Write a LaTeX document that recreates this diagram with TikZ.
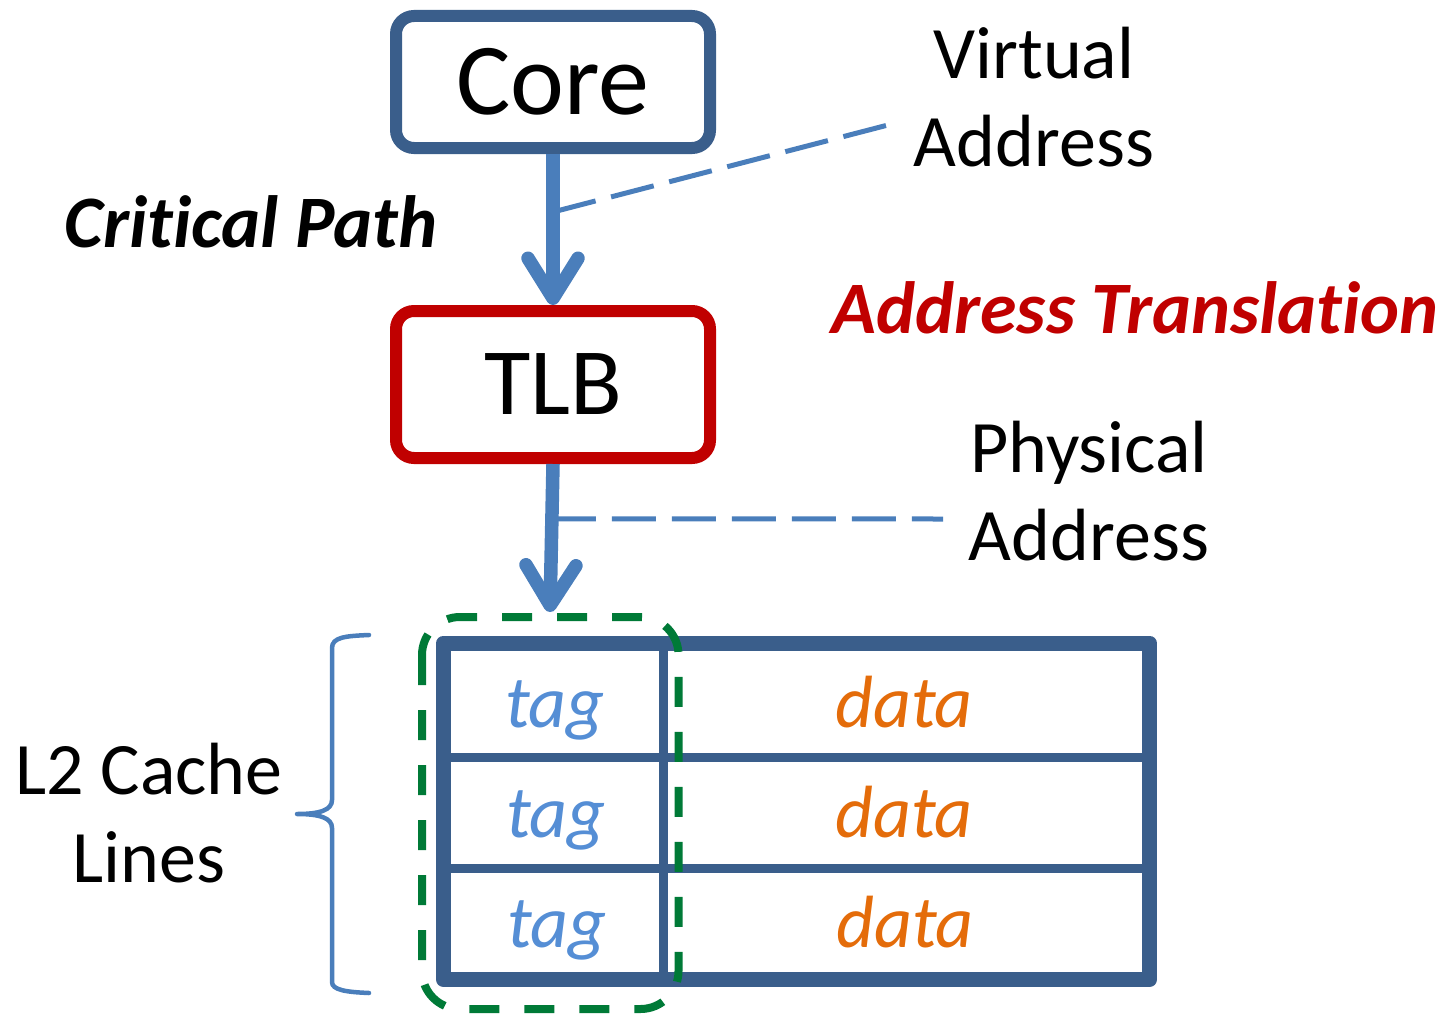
\documentclass[tikz,border=0pt]{standalone}
\usepackage{fontspec}
\setmainfont{Carlito}[Ligatures=NoCommon]
\usetikzlibrary{arrows.meta,calc}
\definecolor{boxblue}{RGB}{58,94,139}
\definecolor{arrowblue}{RGB}{74,126,187}
\definecolor{tlbred}{RGB}{192,0,0}
\definecolor{tagblue}{RGB}{85,142,213}
\definecolor{dataorange}{RGB}{228,108,10}
\definecolor{framegreen}{RGB}{0,122,55}
\begin{document}
\begin{tikzpicture}[x=1pt,y=-1pt,
  unitbox/.style={draw, line width=12pt, rounded corners=18pt, fill=white, inner sep=0pt, minimum width=314pt},
  flow/.style={draw=arrowblue, line width=13.5pt, -{Straight Barb[length=40pt,width=50pt,line cap=round,line join=round]}},
  lead/.style={draw=arrowblue, line width=5pt, dash pattern=on 44pt off 16pt},
  plainlabel/.style={font=\fontsize{74}{88}\selectfont, align=center},
  emphlabel/.style={font=\fontsize{74}{88}\selectfont\bfseries\itshape, anchor=base},
  cell/.style={font=\fontsize{74}{88}\selectfont\itshape, anchor=base},
  tablestroke/.style={draw=boxblue},
  bracestroke/.style={draw=arrowblue, line width=4.5pt, line cap=round, line join=round},
  tagframe/.style={draw=framegreen, line width=8pt, dash pattern=on 30pt off 25pt, rounded corners=38pt}
]
\useasboundingbox (0,0) rectangle (1447,1014);

% boxes
\node[unitbox, draw=boxblue, minimum height=132pt, font=\fontsize{102}{110}\selectfont] (core) at (553,82) {Core};
\node[unitbox, draw=tlbred, minimum height=147pt, font=\fontsize{95}{110}\selectfont] (tlb) at (553,384.5) {TLB};

% free ends
\coordinate (pa) at (550,612);
\coordinate (va) at (888,125);
\coordinate (pb) at (943,519);

% leader lines
\draw[lead] ($(core.south)!0.384!(tlb.north)$) -- (va);
\draw[lead] ($(tlb.south)!0.37!(pa)$) -- (pb);

% table
\draw[tablestroke, line width=15pt, line join=round] (443.5,643) rectangle (1149.5,979.5);
\draw[tablestroke, line width=9pt] (443.5,757.5) -- (1149.5,757.5);
\draw[tablestroke, line width=9pt] (443.5,868) -- (1149.5,868);
\draw[tablestroke, line width=9pt] (663.5,643) -- (663.5,979.5);

\node[cell, text=tagblue] (tag1) at (555,727) {tag};
\node[cell, text=tagblue] (tag2) at (556,837) {tag};
\node[cell, text=tagblue] (tag3) at (557,947) {tag};
\node[cell, text=dataorange] (data1) at (904,727) {data};
\node[cell, text=dataorange] (data2) at (904,837) {data};
\node[cell, text=dataorange] (data3) at (905,947) {data};

% green dashed frame
\draw[tagframe] (422,617) rectangle (678.5,1009);

% arrows
\draw[flow] (core.south) -- (tlb.north);
\draw[flow] (tlb.south) -- (pa);

% brace
\draw[bracestroke] (369,635) .. controls (346,636) and (332,637) .. (332,648) -- (332,800)
  .. controls (332,810) and (320,814) .. (297,814)
  .. controls (320,814) and (332,818) .. (332,828) -- (332,982)
  .. controls (332,990) and (346,992) .. (369,993);

% labels
\node[plainlabel] (vaddr) at (1034,97) {Virtual\\Address};
\node[plainlabel] (paddr) at (1089,491) {Physical\\Address};
\node[plainlabel] (l2) at (149,813) {L2 Cache\\Lines};
\node[emphlabel] (crit) at (251,247) {Critical Path};
\node[emphlabel, text=tlbred] (trans) at (1135,333) {Address Translation};
\end{tikzpicture}
\end{document}
